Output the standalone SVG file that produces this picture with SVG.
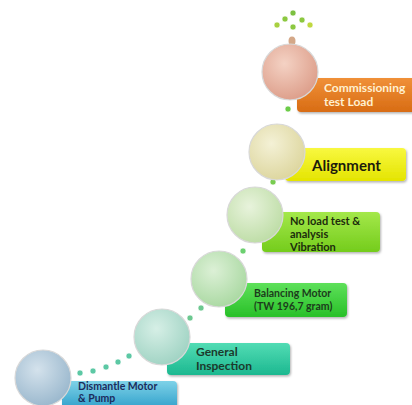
<svg xmlns="http://www.w3.org/2000/svg" width="412" height="405" viewBox="0 0 412 405">
<defs>
<style>
.lbl{font-family:Lato,"Open Sans","Liberation Sans",sans-serif;font-weight:bold}
.rim{stroke:#d8d8d8;stroke-width:1.2}
.dot{stroke:#ffffff;stroke-width:0.6}
</style>
<filter id="sh" x="-10%" y="-10%" width="130%" height="140%"><feDropShadow dx="1" dy="1.5" stdDeviation="1.2" flood-color="#000" flood-opacity="0.3"/></filter>
<radialGradient id="c1" cx="0.4" cy="0.35" r="0.7"><stop offset="0" stop-color="#d4e2ec"/><stop offset="1" stop-color="#98b6cc"/></radialGradient>
<radialGradient id="c2" cx="0.4" cy="0.35" r="0.7"><stop offset="0" stop-color="#d6efe6"/><stop offset="1" stop-color="#9ed2c2"/></radialGradient>
<radialGradient id="c3" cx="0.4" cy="0.35" r="0.7"><stop offset="0" stop-color="#dcf0d6"/><stop offset="1" stop-color="#a8d8a0"/></radialGradient>
<radialGradient id="c4" cx="0.4" cy="0.35" r="0.7"><stop offset="0" stop-color="#e8f3dc"/><stop offset="1" stop-color="#bcdca4"/></radialGradient>
<radialGradient id="c5" cx="0.4" cy="0.35" r="0.7"><stop offset="0" stop-color="#f4f1d6"/><stop offset="1" stop-color="#dcd59c"/></radialGradient>
<radialGradient id="c6" cx="0.4" cy="0.35" r="0.7"><stop offset="0" stop-color="#f4d2c4"/><stop offset="1" stop-color="#dc9c88"/></radialGradient>
<linearGradient id="b1" x1="0" y1="0" x2="0" y2="1"><stop offset="0" stop-color="#7ed2e8"/><stop offset="1" stop-color="#2a9cc8"/></linearGradient>
<linearGradient id="b2" x1="0" y1="0" x2="0" y2="1"><stop offset="0" stop-color="#52dcb4"/><stop offset="1" stop-color="#1cb890"/></linearGradient>
<linearGradient id="b3" x1="0" y1="0" x2="0" y2="1"><stop offset="0" stop-color="#5ee05a"/><stop offset="1" stop-color="#28c028"/></linearGradient>
<linearGradient id="b4" x1="0" y1="0" x2="0" y2="1"><stop offset="0" stop-color="#a4e84a"/><stop offset="1" stop-color="#74cc1c"/></linearGradient>
<linearGradient id="b5" x1="0" y1="0" x2="0" y2="1"><stop offset="0" stop-color="#f8f840"/><stop offset="1" stop-color="#e4e400"/></linearGradient>
<linearGradient id="b6" x1="0" y1="0" x2="0" y2="1"><stop offset="0" stop-color="#f09038"/><stop offset="1" stop-color="#d86c14"/></linearGradient>
</defs>
<rect width="412" height="405" fill="#ffffff"/>
<g id="connectors">
<circle class="dot" cx="80" cy="373" r="3" fill="#5cc8a4"/>
<circle class="dot" cx="93" cy="371" r="3" fill="#5cc8a4"/>
<circle class="dot" cx="106" cy="367" r="3" fill="#5cc8a4"/>
<circle class="dot" cx="118" cy="362" r="3" fill="#5cc8a4"/>
<circle class="dot" cx="129" cy="356" r="3" fill="#5cc8a4"/>
<circle class="dot" cx="190" cy="318" r="3" fill="#6cc890"/>
<circle class="dot" cx="201" cy="308" r="3" fill="#6cc890"/>
<circle class="dot" cx="243" cy="251" r="3" fill="#6cd070"/>
<circle class="dot" cx="273" cy="182" r="3" fill="#78cc50"/>
<circle class="dot" cx="288" cy="109" r="3" fill="#6ccc48"/>
<ellipse cx="292" cy="41" rx="3.5" ry="4.5" fill="#d4a888"/>
<circle class="dot" cx="293" cy="27" r="3" fill="#8cc840"/>
<circle class="dot" cx="277" cy="25" r="3" fill="#a8d040"/>
<circle class="dot" cx="285" cy="19" r="3" fill="#8cc840"/>
<circle class="dot" cx="293" cy="13" r="3" fill="#7cc040"/>
<circle class="dot" cx="302" cy="20" r="3" fill="#8cc840"/>
<circle class="dot" cx="310" cy="25" r="3" fill="#c0d840"/>
</g>
<g id="n1">
<rect x="62" y="381" width="115" height="30" rx="4" fill="url(#b1)" filter="url(#sh)"/>
<circle class="rim" cx="43" cy="378" r="28" fill="url(#c1)"/>
<text class="lbl" x="78" y="390" font-size="10.5" fill="#1c2c5c">Dismantle Motor</text>
<text class="lbl" x="78" y="402" font-size="10.5" fill="#1c2c5c">&amp; Pump</text>
</g>
<g id="n2">
<rect x="167" y="343" width="123" height="32" rx="4" fill="url(#b2)" filter="url(#sh)"/>
<circle class="rim" cx="162" cy="337" r="28" fill="url(#c2)"/>
<text class="lbl" x="196" y="356" font-size="12" fill="#1c3a2c">General</text>
<text class="lbl" x="196" y="370" font-size="12" fill="#1c3a2c">Inspection</text>
</g>
<g id="n3">
<rect x="225" y="283" width="122" height="34" rx="4" fill="url(#b3)" filter="url(#sh)"/>
<circle class="rim" cx="219" cy="279" r="28" fill="url(#c3)"/>
<text class="lbl" x="254" y="297" font-size="10.5" fill="#1c3c1c">Balancing Motor</text>
<text class="lbl" x="254" y="310" font-size="10.5" fill="#1c3c1c">(TW 196,7 gram)</text>
</g>
<g id="n4">
<rect x="262" y="212" width="118" height="40" rx="4" fill="url(#b4)" filter="url(#sh)"/>
<circle class="rim" cx="255" cy="215" r="28" fill="url(#c4)"/>
<text class="lbl" x="290" y="225" font-size="11" fill="#1c2c0c">No load test &amp;</text>
<text class="lbl" x="290" y="238" font-size="11" fill="#1c2c0c">analysis</text>
<text class="lbl" x="290" y="251" font-size="11" fill="#1c2c0c">Vibration</text>
</g>
<g id="n5">
<rect x="285" y="148" width="121" height="33" rx="4" fill="url(#b5)" filter="url(#sh)"/>
<circle class="rim" cx="277" cy="152" r="28" fill="url(#c5)"/>
<text class="lbl" x="312" y="171" font-size="15" fill="#1c1c0c">Alignment</text>
</g>
<g id="n6">
<rect x="297" y="78" width="125" height="34" rx="4" fill="url(#b6)" filter="url(#sh)"/>
<circle class="rim" cx="290" cy="72" r="28" fill="url(#c6)"/>
<text class="lbl" x="324" y="92" font-size="12" fill="#fff0d0">Commissioning</text>
<text class="lbl" x="324" y="106" font-size="12" fill="#fff0d0">test Load</text>
</g>
</svg>
